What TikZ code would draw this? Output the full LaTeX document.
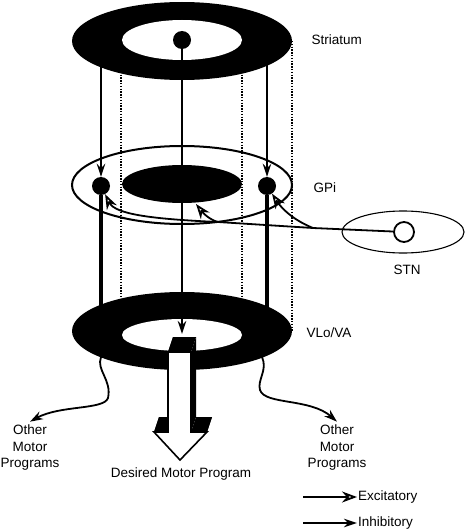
\documentclass[tikz,border=0pt]{standalone}
\usepackage{fontspec}
\setmainfont{Liberation Sans}
\usepackage{tikz}
\usetikzlibrary{arrows.meta,positioning,calc}

\begin{document}
\begin{tikzpicture}[x=1pt,y=-1pt,
  every node/.style={font=\fontsize{13.5}{16.5}\selectfont},
  dot/.style={circle,fill=black,inner sep=0pt,minimum size=18pt},
  inh/.style={-{Stealth[length=13pt,width=8.5pt]}},
  exc/.style={-{Stealth[open,length=15pt,width=11pt,fill=white]}},
  guide/.style={line width=1.4pt,dash pattern=on 1.4pt off 1.4pt}]
  \useasboundingbox (0,0) rectangle (465,532);
  % guides
  \foreach \x in {121,242,292} {\draw[guide] (\x,41)--(\x,331);}
  % striatum
  \fill[black] (182,41) ellipse [x radius=110pt,y radius=39pt];
  \fill[white] (182,40) ellipse [x radius=60pt,y radius=20pt];
  \node[dot] (strDot) at (182,40) {};
  % GPi
  \draw[line width=2pt] (182,185) ellipse [x radius=110pt,y radius=39pt];
  \fill[black] (182,184) ellipse [x radius=60pt,y radius=19pt];
  \node[dot] (gpiL) at (101,186) {};
  \node[dot] (gpiR) at (267,186) {};
  \coordinate (strL) at (101,60);
  \coordinate (strR) at (267,60);
  \draw[inh,line width=1.6pt] (strL) -- (gpiL);
  \draw[inh,line width=1.6pt] (strR) -- (gpiR);
  \coordinate (vloL) at (101,320);
  \coordinate (vloR) at (267,320);
  \draw[line width=4pt] (gpiL) -- (vloL);
  \draw[line width=4pt] (gpiR) -- (vloR);
  % VLo/VA
  \fill[black] (182,331) ellipse [x radius=110pt,y radius=39pt];
  \fill[white] (182,335) ellipse [x radius=60pt,y radius=16pt];
  \coordinate (vloIn) at (182,334);
  \draw[inh,line width=2pt] (strDot) -- (vloIn);
  % fleche du programme moteur
  \coordinate (a1) at (168,352); \coordinate (a2) at (168,432);
  \coordinate (a3) at (154,432); \coordinate (a4) at (180,460);
  \coordinate (a5) at (207,432); \coordinate (a6) at (191,432);
  \coordinate (a7) at (191,352);
  \foreach \p/\q in {a1/a2,a2/a3,a3/a4,a4/a5,a5/a6,a6/a7,a7/a1}
     \fill[black] (\p) -- (\q) -- ([shift={(5,-15)}]\q) -- ([shift={(5,-15)}]\p) -- cycle;
  \filldraw[fill=white,draw=black,line width=1.6pt,line join=miter]
    (a1)--(a2)--(a3)--(a4)--(a5)--(a6)--(a7)--cycle;
  % autres programmes
  \coordinate (outL) at (101,357);
  \coordinate (outR) at (262,357);
  \node[align=center] (othL) at (30,448) {Other\\Motor\\Programs};
  \node[align=center] (othR) at (337,448) {Other\\Motor\\Programs};
  \draw[inh,line width=1.8pt] (outL) .. controls (96,370) and (112,380) .. (108,398)
     .. controls (104,410) and (60,405) .. (othL.north);
  \draw[inh,line width=1.8pt] (outR) .. controls (268,370) and (257,380) .. (260,390)
     .. controls (265,405) and (310,398) .. (othR.north);
  \node (desired) at (181,474) {Desired Motor Program};
  % STN
  \draw[line width=1.1pt] (403,232) ellipse [x radius=61pt,y radius=21pt];
  \node[circle,draw=black,fill=white,line width=1.8pt,inner sep=0pt,minimum size=20pt] (stnDot) at (404,232) {};
  \coordinate (jR) at (313,228);
  \coordinate (jM) at (218,222);
  \coordinate (gpiIn) at (196,204);
  \draw[line width=1.8pt] (stnDot) -- (jR) -- (jM);
  \draw[exc,line width=1.8pt] (jR) .. controls (298,222) and (284,212) .. (gpiR);
  \draw[exc,line width=1.8pt] (jM) .. controls (150,219) and (115,214) .. (gpiL);
  \draw[exc,line width=1.8pt] (jM) .. controls (210,220) and (203,213) .. (gpiIn);
  % etiquettes
  \node[anchor=west] (lblStr) at (308,40) {Striatum};
  \node[anchor=west] (lblGpi) at (310,188) {GPi};
  \node[anchor=west] (lblVlo) at (303,333) {VLo/VA};
  \node (lblStn) at (407,270) {STN};
  % legende
  \node[anchor=west,inner sep=1pt] (excT) at (357,497) {Excitatory};
  \node[anchor=west,inner sep=1pt] (inhT) at (357,523) {Inhibitory};
  \coordinate (excA) at (303,497);
  \coordinate (inhA) at (303,523);
  \draw[exc,line width=1.8pt] (excA) -- (excT.west);
  \draw[inh,line width=1.8pt] (inhA) -- (inhT.west);
\end{tikzpicture}
\end{document}
